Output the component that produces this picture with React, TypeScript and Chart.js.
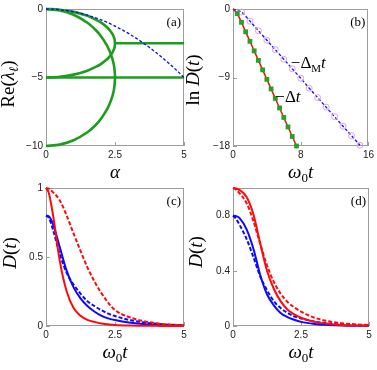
import React, { useEffect, useRef } from "react";
import { Chart, registerables } from "chart.js";
Chart.register(...registerables);

// ---------- Panel (a) data ----------
const alphaGrid = [0, 0.25, 0.5, 0.75, 1, 1.25, 1.5, 1.75, 2, 2.25, 2.5, 2.75, 3, 3.25, 3.5, 3.75, 4, 4.25, 4.5, 4.75, 5];
const blueDashedRe = [0, -0.01, -0.05, -0.11, -0.2, -0.31, -0.45, -0.61, -0.8, -1.01, -1.25, -1.51, -1.8, -2.11, -2.45, -2.81, -3.2, -3.61, -4.05, -4.51, -5];
const outerArcAlpha = [0, 0.5, 1, 1.5, 1.8, 2, 2.2, 2.3, 2.4, 2.45, 2.48, 2.5, 2.48, 2.45, 2.4, 2.3, 2.2, 2, 1.8, 1.5, 1, 0.5, 0];
const outerArcRe = [0, -0.1, -0.42, -1, -1.53, -2, -2.63, -3.04, -3.6, -4, -4.37, -5, -5.63, -6, -6.4, -6.96, -7.37, -8, -8.47, -9, -9.58, -9.9, -10];
const innerArcAlpha = [0, 0.5, 1, 1.5, 1.8, 2, 2.2, 2.3, 2.4, 2.45, 2.48, 2.5, 2.48, 2.45, 2.4, 2.3, 2.2, 2, 1.8, 1.5, 1, 0.5, 0];
const innerArcRe = [0, -0.05, -0.21, -0.5, -0.77, -1, -1.31, -1.52, -1.8, -2, -2.18, -2.5, -2.82, -3, -3.2, -3.48, -3.69, -4, -4.23, -4.5, -4.79, -4.95, -5];
const lowFlatAlpha = [0, 5];
const lowFlatRe = [-5, -5];
const highFlatAlpha = [2.5, 5];
const highFlatRe = [-2.5, -2.5];

// ---------- Panel (b) data ----------
const redT = [0, 0.5, 1, 1.5, 2, 2.5, 3, 3.5, 4, 4.5, 5, 5.5, 6, 6.5, 7, 7.5];
const redLnD = [0, -0.6, -1.75, -3.0, -4.25, -5.5, -6.75, -8.0, -9.25, -10.5, -11.75, -13.0, -14.25, -15.5, -16.75, -18.0];
const squareT = [0.5, 1, 1.5, 2, 2.5, 3, 3.5, 4, 4.5, 5, 5.5, 6, 6.5, 7, 7.5];
const squareLnD = [-0.6, -1.75, -3.0, -4.25, -5.5, -6.75, -8.0, -9.25, -10.5, -11.75, -13.0, -14.25, -15.5, -16.75, -18.0];
const blueT = [0, 1, 2, 3, 4, 5, 6, 7, 8, 9, 10, 11, 12, 13, 14, 15];
const blueLnD = [0, -0.4, -1.6, -2.85, -4.1, -5.35, -6.6, -7.85, -9.1, -10.4, -11.65, -12.9, -14.15, -15.4, -16.65, -17.9];
const circleT = [1, 2, 3, 4, 5, 6, 7, 8, 9, 10, 11, 12, 13, 14, 15];
const circleLnD = [-0.4, -1.6, -2.85, -4.1, -5.35, -6.6, -7.85, -9.1, -10.4, -11.65, -12.9, -14.15, -15.4, -16.65, -17.9];

// ---------- Panels (c), (d) data ----------
const tGrid = [0, 0.1, 0.25, 0.5, 0.75, 1, 1.25, 1.5, 1.75, 2, 2.25, 2.5, 3, 3.5, 4, 4.5, 5];
const redSolidC = [1, 0.965, 0.81, 0.47, 0.25, 0.13, 0.075, 0.045, 0.03, 0.018, 0.012, 0.007, 0.003, 0.002, 0.001, 0, 0];
const redDashC = [1, 0.995, 0.97, 0.91, 0.8, 0.67, 0.545, 0.425, 0.325, 0.24, 0.17, 0.115, 0.065, 0.037, 0.02, 0.01, 0.005];
const blueSolidC = [0.8, 0.795, 0.74, 0.57, 0.4, 0.28, 0.2, 0.145, 0.105, 0.075, 0.055, 0.043, 0.025, 0.014, 0.008, 0.004, 0.002];
const blueDashC = [0.8, 0.785, 0.7, 0.52, 0.385, 0.3, 0.235, 0.18, 0.145, 0.115, 0.09, 0.072, 0.045, 0.027, 0.016, 0.009, 0.005];
const redSolidD = [1, 0.997, 0.985, 0.935, 0.81, 0.6, 0.4, 0.27, 0.18, 0.12, 0.085, 0.06, 0.03, 0.015, 0.007, 0.003, 0.001];
const redDashD = [1, 0.99, 0.96, 0.89, 0.76, 0.595, 0.44, 0.32, 0.235, 0.175, 0.135, 0.105, 0.06, 0.035, 0.02, 0.012, 0.007];
const blueSolidD = [0.8, 0.797, 0.78, 0.7, 0.56, 0.37, 0.23, 0.15, 0.095, 0.065, 0.045, 0.03, 0.015, 0.008, 0.004, 0.002, 0.001];
const blueDashD = [0.8, 0.78, 0.73, 0.63, 0.5, 0.36, 0.26, 0.18, 0.13, 0.095, 0.07, 0.055, 0.032, 0.018, 0.01, 0.006, 0.003];

// ---------- Tick labels ----------
const aXTicks = [0, 2.5, 5];
const aXLabels = ["0", "2.5", "5"];
const aYTicks = [-10, -5, 0];
const aYLabels = ["\u221210", "\u22125", "0"];
const bXTicks = [0, 8, 16];
const bXLabels = ["0", "8", "16"];
const bYTicks = [-18, -9, 0];
const bYLabels = ["\u221218", "\u22129", "0"];
const cXTicks = [0, 2.5, 5];
const cXLabels = ["0", "2.5", "5"];
const cYTicks = [0, 0.5, 1];
const cYLabels = ["0", "0.5", "1"];
const dYTicks = [0, 0.4, 0.8];
const dYLabels = ["0", "0.4", "0.8"];

const GREEN = "#1c9e1c";
const RED = "#ff0a0a";
const BLUE = "#0a0aff";
const FRAME = "#9c9c9c";
const SERIF = '"Liberation Serif", "Times New Roman", serif';
const SANS = '"Liberation Sans", Arial, sans-serif';
const TITLE_SIZE = 19;

type Part = { t: string; it?: boolean; sub?: boolean };

function drawRich(ctx: CanvasRenderingContext2D, parts: Part[], x: number, y: number, size: number, rotate: boolean, align: "center" | "left") {
  ctx.save();
  ctx.translate(x, y);
  if (rotate) ctx.rotate(-Math.PI / 2);
  const fontFor = (p: Part) => `${p.it ? "italic " : ""}${p.sub ? Math.round(size * 0.66) : size}px ${SERIF}`;
  let w = 0;
  for (const p of parts) {
    ctx.font = fontFor(p);
    w += ctx.measureText(p.t).width;
  }
  let cx = align === "center" ? -w / 2 : 0;
  ctx.textBaseline = "middle";
  ctx.textAlign = "left";
  ctx.fillStyle = "#000";
  for (const p of parts) {
    ctx.font = fontFor(p);
    ctx.fillText(p.t, cx, p.sub ? size * 0.3 : 0);
    cx += ctx.measureText(p.t).width;
  }
  ctx.restore();
}

const pts = (xs: number[], ys: number[]) => xs.map((x, i) => ({ x, y: ys[i] }));

type Note = { parts: Part[]; x: number; y: number };
type Panel = {
  left: number; top: number; width: number; height: number;
  yW: number; xH: number; padTop: number; padRight: number;
  xMin: number; xMax: number; xTicks: number[]; xLabels: string[];
  yMin: number; yMax: number; yTicks: number[]; yLabels: string[];
  xTitle: Part[]; yTitle: Part[]; yTitleDX: number; yTitleCY: number;
  tag: string; notes: Note[]; datasets: any[];
};

const line = (xs: number[], ys: number[], color: string, width: number, dash: number[] = [], mode: "monotone" | "default" = "monotone", tension = 0) => ({
  data: pts(xs, ys), showLine: true, borderColor: color, backgroundColor: color, borderWidth: width,
  borderDash: dash, pointRadius: 0, cubicInterpolationMode: mode, tension, clip: false,
});

const panels: Panel[] = [
  {
    left: 0, top: 0, width: 190, height: 182, yW: 46, xH: 36, padTop: 8, padRight: 6,
    xMin: 0, xMax: 5, xTicks: aXTicks, xLabels: aXLabels,
    yMin: -10, yMax: 0, yTicks: aYTicks, yLabels: aYLabels,
    xTitle: [{ t: "\u03b1", it: true }],
    yTitle: [{ t: "Re(" }, { t: "\u03bb", it: true }, { t: "\u2113", it: true, sub: true }, { t: ")" }],
    yTitleDX: -37, yTitleCY: 84, tag: "(a)", notes: [],
    datasets: [
      line(alphaGrid, blueDashedRe, BLUE, 1.3, [3, 2]),
      line(outerArcAlpha, outerArcRe, GREEN, 2.6, [], "default", 0.3),
      line(innerArcAlpha, innerArcRe, GREEN, 2.6, [], "default", 0.3),
      line(lowFlatAlpha, lowFlatRe, GREEN, 2.6),
      line(highFlatAlpha, highFlatRe, GREEN, 2.6),
    ],
  },
  {
    left: 184, top: 0, width: 193, height: 182, yW: 49, xH: 36, padTop: 8, padRight: 8,
    xMin: 0, xMax: 16, xTicks: bXTicks, xLabels: bXLabels,
    yMin: -18, yMax: 0, yTicks: bYTicks, yLabels: bYLabels,
    xTitle: [{ t: "\u03c9", it: true }, { t: "0", sub: true }, { t: "t", it: true }],
    yTitle: [{ t: "ln " }, { t: "D", it: true }, { t: "(" }, { t: "t", it: true }, { t: ")" }],
    yTitleDX: -39, yTitleCY: 80, tag: "(b)",
    notes: [
      { parts: [{ t: "\u2212\u0394" }, { t: "M", sub: true }, { t: "t", it: true }], x: 6.83, y: -7.2 },
      { parts: [{ t: "\u2212\u0394" }, { t: "t", it: true }], x: 5.0, y: -11.57 },
    ],
    datasets: [
      { data: pts(squareT, squareLnD), showLine: false, pointStyle: "rect", pointRadius: 3.4, backgroundColor: "#22a322", borderColor: "#22a322", borderWidth: 0, clip: false },
      { data: pts(circleT, circleLnD), showLine: false, pointStyle: "circle", pointRadius: 3, backgroundColor: "rgba(255,255,255,0)", borderColor: "#e09ef0", borderWidth: 1, clip: false },
      line(redT, redLnD, RED, 1.5),
      line(blueT, blueLnD, BLUE, 1.3, [3, 2]),
    ],
  },
  {
    left: 0, top: 178, width: 190, height: 192, yW: 46, xH: 44, padTop: 10, padRight: 6,
    xMin: 0, xMax: 5, xTicks: cXTicks, xLabels: cXLabels,
    yMin: 0, yMax: 1, yTicks: cYTicks, yLabels: cYLabels,
    xTitle: [{ t: "\u03c9", it: true }, { t: "0", sub: true }, { t: "t", it: true }],
    yTitle: [{ t: "D", it: true }, { t: "(" }, { t: "t", it: true }, { t: ")" }],
    yTitleDX: -35, yTitleCY: 253 - 178, tag: "(c)", notes: [],
    datasets: [
      line(tGrid, redSolidC, RED, 2),
      line(tGrid, redDashC, RED, 2, [4, 2]),
      line(tGrid, blueSolidC, BLUE, 2),
      line(tGrid, blueDashC, BLUE, 2, [4, 2]),
    ],
  },
  {
    left: 184, top: 178, width: 193, height: 192, yW: 49, xH: 44, padTop: 10, padRight: 8,
    xMin: 0, xMax: 5, xTicks: cXTicks, xLabels: cXLabels,
    yMin: 0, yMax: 1, yTicks: dYTicks, yLabels: dYLabels,
    xTitle: [{ t: "\u03c9", it: true }, { t: "0", sub: true }, { t: "t", it: true }],
    yTitle: [{ t: "D", it: true }, { t: "(" }, { t: "t", it: true }, { t: ")" }],
    yTitleDX: -36, yTitleCY: 252 - 178, tag: "(d)", notes: [],
    datasets: [
      line(tGrid, redSolidD, RED, 2),
      line(tGrid, redDashD, RED, 2, [4, 2]),
      line(tGrid, blueSolidD, BLUE, 2),
      line(tGrid, blueDashD, BLUE, 2, [4, 2]),
    ],
  },
];

function makeConfig(p: Panel): any {
  const framePlugin = {
    id: "frame",
    beforeDatasetsDraw(chart: any) {
      const { ctx, chartArea: a, scales } = chart;
      ctx.save();
      ctx.strokeStyle = FRAME;
      ctx.lineWidth = 1;
      ctx.strokeRect(Math.round(a.left) + 0.5, Math.round(a.top) + 0.5, Math.round(a.right - a.left) - 1, Math.round(a.bottom - a.top) - 1);
      ctx.beginPath();
      for (const v of p.xTicks) {
        const x = Math.round(scales.x.getPixelForValue(v)) + 0.5;
        ctx.moveTo(x, a.bottom);
        ctx.lineTo(x, a.bottom - 4);
      }
      for (const v of p.yTicks) {
        const y = Math.round(scales.y.getPixelForValue(v)) + 0.5;
        ctx.moveTo(a.left, y);
        ctx.lineTo(a.left + 4, y);
      }
      ctx.stroke();
      ctx.restore();
    },
    afterDraw(chart: any) {
      const { ctx, chartArea: a, scales } = chart;
      drawRich(ctx, p.xTitle, (a.left + a.right) / 2, a.bottom + 27, TITLE_SIZE, false, "center");
      drawRich(ctx, p.yTitle, a.left + p.yTitleDX, p.yTitleCY, TITLE_SIZE, true, "center");
      ctx.save();
      ctx.font = `13px ${SERIF}`;
      ctx.fillStyle = "#000";
      ctx.textAlign = "right";
      ctx.textBaseline = "middle";
      ctx.fillText(p.tag, a.right - 3, a.top + 14);
      ctx.restore();
      for (const n of p.notes) {
        drawRich(ctx, n.parts, scales.x.getPixelForValue(n.x), scales.y.getPixelForValue(n.y), 17, false, "left");
      }
    },
  };
  return {
    type: "scatter",
    data: { datasets: p.datasets },
    options: {
      responsive: false,
      devicePixelRatio: 1,
      animation: false,
      events: [],
      layout: { padding: { top: p.padTop, right: p.padRight, left: 0, bottom: 0 } },
      plugins: { legend: { display: false }, tooltip: { enabled: false }, title: { display: false } },
      scales: {
        x: {
          type: "linear", min: p.xMin, max: p.xMax,
          grid: { display: false, drawTicks: false },
          border: { display: false },
          afterBuildTicks: (s: any) => { s.ticks = p.xTicks.map((v) => ({ value: v })); },
          afterFit: (s: any) => { s.height = p.xH; },
          ticks: {
            autoSkip: false, maxRotation: 0, padding: 3, color: "#222",
            font: { family: SANS, size: 10 },
            callback: (_v: any, i: number) => p.xLabels[i],
          },
        },
        y: {
          type: "linear", min: p.yMin, max: p.yMax,
          grid: { display: false, drawTicks: false },
          border: { display: false },
          afterBuildTicks: (s: any) => { s.ticks = p.yTicks.map((v) => ({ value: v })); },
          afterFit: (s: any) => { s.width = p.yW; },
          ticks: {
            autoSkip: false, padding: 3, color: "#222",
            font: { family: SANS, size: 10 },
            callback: (_v: any, i: number) => p.yLabels[i],
          },
        },
      },
    },
    plugins: [framePlugin],
  };
}

function PanelChart({ p }: { p: Panel }) {
  const ref = useRef<HTMLCanvasElement | null>(null);
  useEffect(() => {
    if (!ref.current) return;
    const chart = new Chart(ref.current, makeConfig(p));
    return () => chart.destroy();
  }, [p]);
  return (
    <canvas
      ref={ref}
      width={p.width}
      height={p.height}
      style={{ position: "absolute", left: p.left, top: p.top, width: p.width, height: p.height }}
    />
  );
}

export default function App() {
  return (
    <div style={{ position: "absolute", left: 0, top: 0, width: 377, height: 370, background: "#fff" }}>
      {panels.map((p, i) => (
        <PanelChart key={i} p={p} />
      ))}
    </div>
  );
}
